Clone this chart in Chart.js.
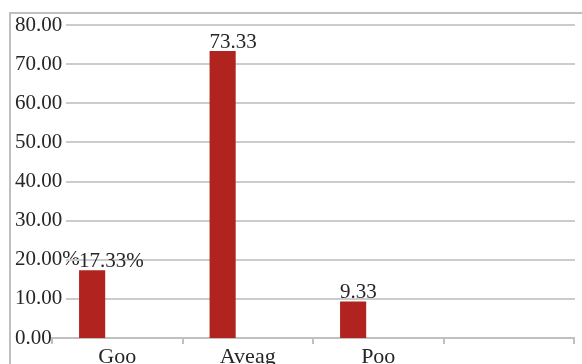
<!DOCTYPE html>
<html>
<head>
<meta charset="utf-8">
<script src="https://cdn.jsdelivr.net/npm/chart.js@4/dist/chart.umd.min.js"></script>
<style>
  html, body { margin: 0; padding: 0; background: #ffffff; }
  #wrap { width: 582px; height: 364px; position: relative; }
</style>
</head>
<body>
<div id="wrap"><canvas id="c" width="582" height="364"></canvas></div>
<script>
// Rating categories (the last slot is left empty)
const categories = ["Goo", "Aveag", "Poo", ""];
// Share of responses per rating
const ratingValues = [17.33, 73.33, 9.33, null];
// Companion series with no entries (keeps bars in the left half of each slot)
const companionValues = [null, null, null, null];
// Suffix printed after each value label
const valueSuffixes = ["%", "", ""];
// Y axis tick labels, from 0 up to 80
const yTickLabels = ["0.00", "10.00", "20.00%", "30.00", "40.00", "50.00", "60.00", "70.00", "80.00"];

const FONT = "'Liberation Serif', 'Times New Roman', serif";
const TEXT = "#262626";

// Outer frame and horizontal grid lines
const framePlugin = {
  id: "frame",
  beforeDatasetsDraw(chart) {
    const ctx = chart.ctx;
    const y = chart.scales.y;
    const area = chart.chartArea;
    ctx.save();
    ctx.strokeStyle = "#bfbfbf";
    ctx.lineWidth = 2;
    ctx.beginPath();
    ctx.moveTo(10, 370);
    ctx.lineTo(10, 13);
    ctx.lineTo(590, 13);
    ctx.stroke();
    ctx.strokeStyle = "#cccccc";
    ctx.lineWidth = 2;
    y.ticks.forEach(t => {
      if (t.value === 0) return;
      const py = Math.round(y.getPixelForValue(t.value));
      ctx.beginPath();
      ctx.moveTo(66, py);
      ctx.lineTo(area.right + 1, py);
      ctx.stroke();
    });
    ctx.restore();
  }
};

// Value labels above each bar
const valueLabelPlugin = {
  id: "valueLabels",
  afterDatasetsDraw(chart) {
    const ctx = chart.ctx;
    const meta = chart.getDatasetMeta(0);
    ctx.save();
    ctx.font = "21px " + FONT;
    ctx.fillStyle = TEXT;
    ctx.textBaseline = "alphabetic";
    meta.data.forEach((bar, i) => {
      const v = ratingValues[i];
      if (v === null || v === undefined) return;
      const text = v.toFixed(2) + (valueSuffixes[i] || "");
      ctx.textAlign = "left";
      ctx.fillText(text, bar.x - bar.width / 2, bar.y - 3);
    });
    ctx.restore();
  }
};

new Chart(document.getElementById("c"), {
  type: "bar",
  data: {
    labels: categories,
    datasets: [
      {
        data: ratingValues,
        backgroundColor: "#b0231e",
        categoryPercentage: 0.77,
        barPercentage: 0.52
      },
      {
        data: companionValues,
        backgroundColor: "#7f7f7f",
        categoryPercentage: 0.77,
        barPercentage: 0.52
      }
    ]
  },
  options: {
    responsive: false,
    animation: false,
    events: [],
    layout: { padding: { left: 15, right: 8, top: 25, bottom: 0 } },
    plugins: { legend: { display: false }, tooltip: { enabled: false } },
    scales: {
      x: {
        offset: true,
        border: { display: true, color: "#c0c0c0", width: 2 },
        grid: { display: true, drawOnChartArea: false, offset: true, color: "#c0c0c0", lineWidth: 2, tickLength: 6 },
        ticks: { color: TEXT, font: { family: FONT, size: 22 }, padding: 0, maxRotation: 0, autoSkip: false },
        afterFit(scale) { scale.height = 26; }
      },
      y: {
        min: 0,
        max: 80,
        border: { display: false },
        grid: { display: false },
        ticks: {
          stepSize: 10,
          mirror: true,
          padding: -37,
          color: TEXT,
          font: { family: FONT, size: 21 },
          callback: (value, index) => yTickLabels[index]
        },
        afterFit(scale) { scale.width = 37; }
      }
    }
  },
  plugins: [framePlugin, valueLabelPlugin]
});
</script>
</body>
</html>
